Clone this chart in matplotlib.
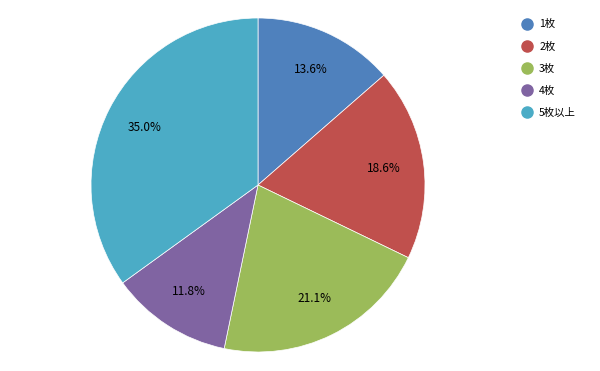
import matplotlib
matplotlib.use("Agg")
import matplotlib.pyplot as plt
from matplotlib.lines import Line2D

plt.rcParams['font.family'] = ['Noto Sans CJK JP', 'DejaVu Sans']

categories = ['1枚', '2枚', '3枚', '4枚', '5枚以上']
values = [13.6, 18.6, 21.1, 11.8, 35.0]
colors = ['#4F81BD', '#C0504D', '#9BBB59', '#8064A2', '#4BACC6']

W, H = 600, 371
fig = plt.figure(figsize=(W / 100, H / 100), dpi=100)
cx, cy, r = 258, 185, 167
ax = fig.add_axes([(cx - r) / W, (H - cy - r) / H, 2 * r / W, 2 * r / H])
wedges, texts, autotexts = ax.pie(
    values, colors=colors, startangle=90, counterclock=False,
    autopct='%1.1f%%', pctdistance=0.76,
    wedgeprops=dict(edgecolor='white', linewidth=0.5),
    textprops=dict(fontsize=8.5, color='black'))
ax.set_xlim(-1, 1)
ax.set_ylim(-1, 1)
ax.axis('off')

handles = [Line2D([0], [0], marker='o', linestyle='none', markersize=8,
                  markerfacecolor=c, markeredgecolor=c) for c in colors]
fig.legend(handles, categories, loc='upper left',
           bbox_to_anchor=(510 / W, 1 - 10 / H), frameon=False,
           fontsize=7.5, handletextpad=0.4, labelspacing=1.15,
           handlelength=1.5)

fig.savefig('out.png', dpi=100)
